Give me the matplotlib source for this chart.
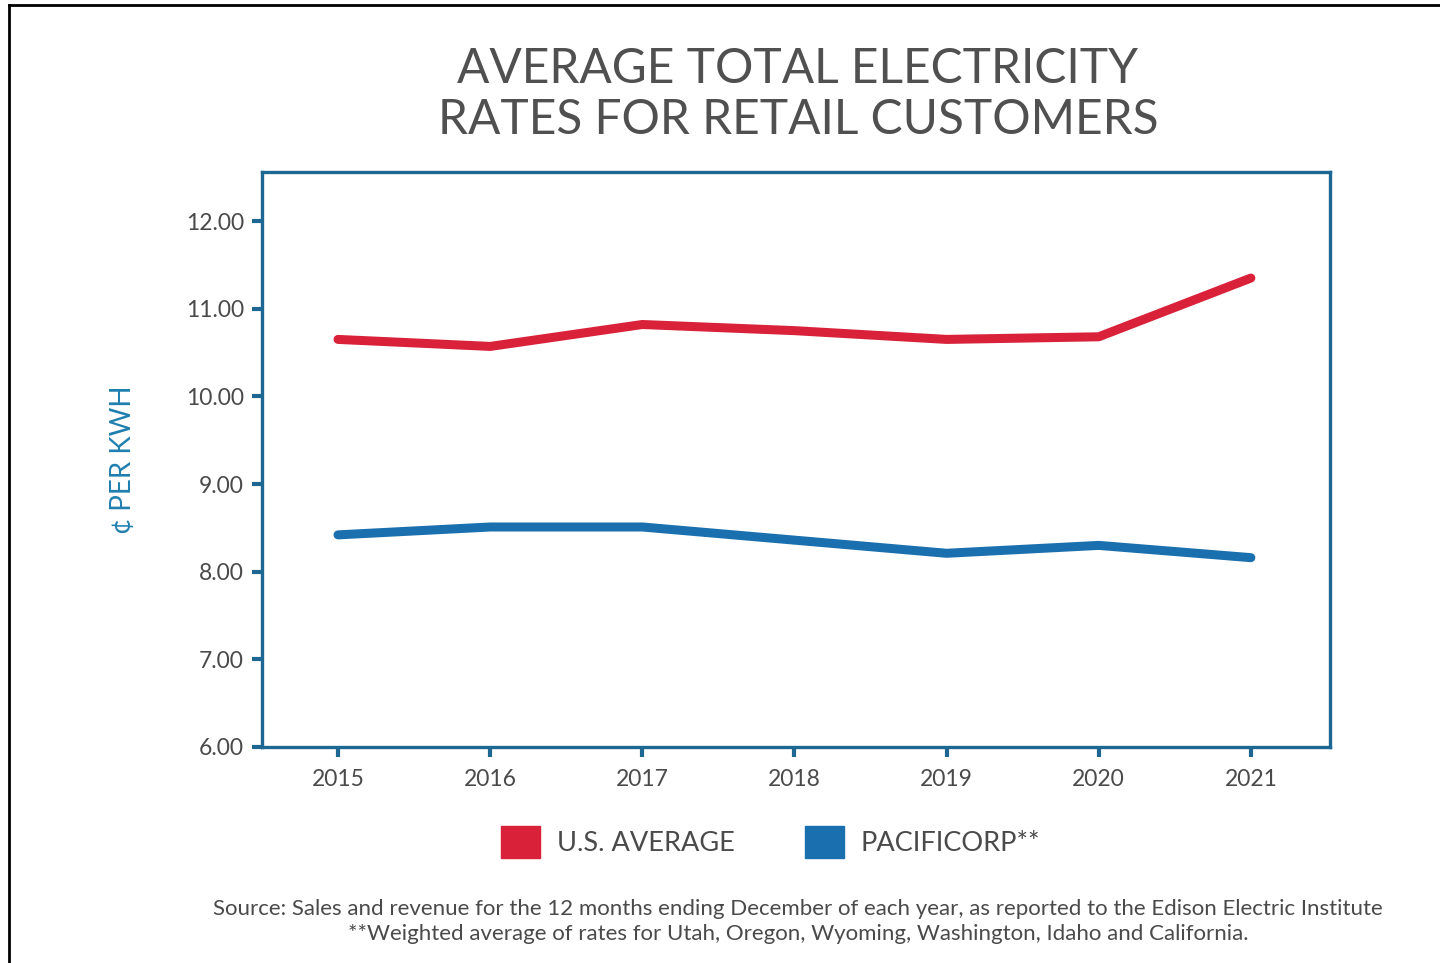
import matplotlib
matplotlib.use("Agg")
import matplotlib.pyplot as plt
from matplotlib.patches import Patch
from matplotlib.lines import Line2D

plt.rcParams['font.family'] = ['Lato', 'DejaVu Sans']

# Data (cents per kWh)
years = [2015, 2016, 2017, 2018, 2019, 2020, 2021]
us_average = [10.65, 10.57, 10.82, 10.75, 10.65, 10.68, 11.35]
pacificorp = [8.42, 8.51, 8.51, 8.36, 8.21, 8.30, 8.16]
y_ticks = [6, 7, 8, 9, 10, 11, 12]

red = '#d9213a'
blue = '#1a6fae'
frame = '#1d6792'
text_gray = '#4a4a4a'

fig = plt.figure(figsize=(14.4, 9.63), dpi=100)
ax = fig.add_axes([0.1819, 0.2243, 0.7417, 0.5971])

ax.plot(years, us_average, color=red, lw=6.5, solid_joinstyle='round', solid_capstyle='round')
ax.plot(years, pacificorp, color=blue, lw=6.5, solid_joinstyle='round', solid_capstyle='round')

ax.set_xlim(2014.5, 2021.52)
ax.set_ylim(6, 12.56)
ax.set_xticks(years)
ax.set_xticklabels([str(y) for y in years])
ax.set_yticks(y_ticks)
ax.set_yticklabels([f"{v:.2f}" for v in y_ticks])

for s in ax.spines.values():
    s.set_color(frame)
    s.set_linewidth(2.4)
ax.tick_params(axis='both', direction='out', length=7, width=3, color=frame,
               labelsize=16.5, labelcolor=text_gray)
ax.tick_params(axis='x', pad=9)
ax.tick_params(axis='y', pad=6)

ax.set_ylabel('¢ PER KWH', color='#1f7fae', fontsize=20, labelpad=36)

fig.text(0.554, 0.902, 'AVERAGE TOTAL ELECTRICITY\nRATES FOR RETAIL CUSTOMERS',
         ha='center', va='center', fontsize=34.5, color='#505050', linespacing=1.2)

handles = [Patch(facecolor=red, edgecolor=red, label='U.S. AVERAGE'),
           Patch(facecolor=blue, edgecolor=blue, label='PACIFICORP**')]
leg = fig.legend(handles=handles, loc='center', bbox_to_anchor=(0.535, 0.126), ncol=2,
                 frameon=False, fontsize=19.5, handlelength=1.45, handleheight=1.45,
                 columnspacing=2.6, handletextpad=0.6)
for t in leg.get_texts():
    t.set_color(text_gray)

fig.text(0.554, 0.043,
         'Source: Sales and revenue for the 12 months ending December of each year, as reported to the Edison Electric Institute\n'
         '**Weighted average of rates for Utah, Oregon, Wyoming, Washington, Idaho and California.',
         ha='center', va='center', fontsize=16, color=text_gray, linespacing=1.35)

# outer black frame (top and left edges)
fig.add_artist(Line2D([0.0065, 0.0065], [0, 0.9945], transform=fig.transFigure, color='black', lw=2))
fig.add_artist(Line2D([0.0065, 1], [0.9945, 0.9945], transform=fig.transFigure, color='black', lw=2))

fig.savefig('out.png', dpi=100, facecolor='white')
